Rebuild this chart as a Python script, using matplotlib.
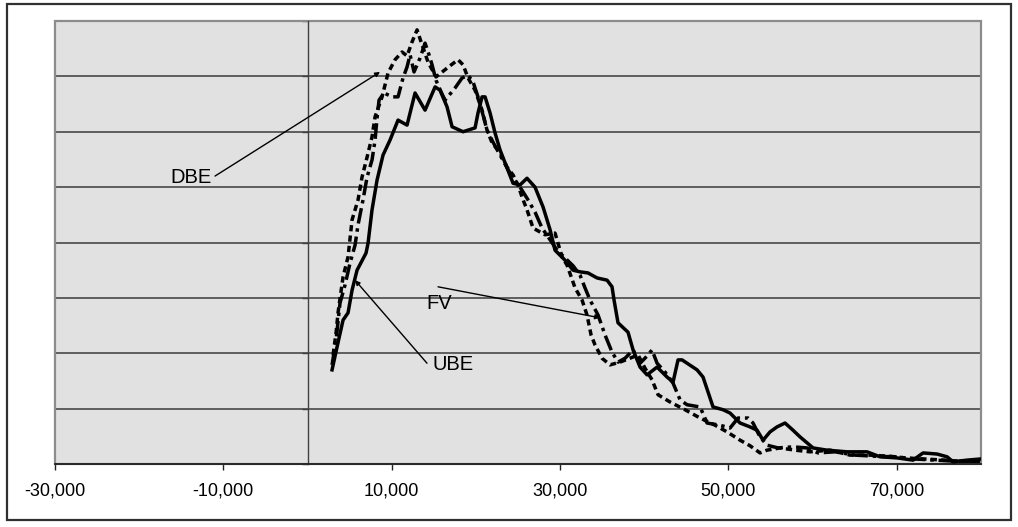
import numpy as np
import matplotlib
matplotlib.use("Agg")
import matplotlib.pyplot as plt
from matplotlib.patches import Rectangle

plt.rcParams['font.family'] = ['Liberation Sans', 'DejaVu Sans']

# ---- data (x in thousands, y in grid units) ----
ube_x = [2.91, 3.50, 4.22, 4.81, 5.29, 5.88, 6.95, 7.19, 7.66, 8.26, 8.97, 9.80, 10.75, 11.82,
         12.77, 13.96, 15.15, 15.74, 16.57, 17.17, 18.47, 19.90, 20.25, 20.73, 21.09, 21.68,
         22.27, 22.87, 23.46, 24.41, 25.24, 26.07, 27.02, 27.98, 28.81, 29.40, 30.59, 31.54,
         32.37, 33.32, 34.39, 35.58, 36.17, 36.41, 36.88, 38.07, 38.67, 39.50, 40.33, 41.52,
         42.71, 43.42, 44.01, 44.49, 46.27, 46.98, 48.17, 49.36, 50.19, 51.38, 52.56, 53.40,
         54.11, 54.94, 55.77, 56.72, 57.67, 58.50, 60.05, 61.71, 64.09, 66.46, 68.01, 70.03,
         71.93, 73.12, 74.78, 75.97, 76.68, 78.34, 79.89]
ube_y = [1.70, 2.11, 2.60, 2.73, 3.14, 3.50, 3.81, 3.99, 4.59, 5.13, 5.58, 5.85, 6.21, 6.12,
         6.70, 6.39, 6.81, 6.75, 6.45, 6.09, 6.00, 6.07, 6.34, 6.63, 6.63, 6.34,
         5.98, 5.67, 5.44, 5.07, 5.04, 5.16, 5.00, 4.64, 4.23, 3.86, 3.68, 3.50,
         3.47, 3.45, 3.36, 3.32, 3.20, 2.96, 2.55, 2.38, 2.06, 1.75, 1.61, 1.75,
         1.57, 1.48, 1.88, 1.88, 1.70, 1.57, 1.03, 0.98, 0.92, 0.74, 0.67, 0.61,
         0.43, 0.58, 0.67, 0.74, 0.61, 0.49, 0.29, 0.25, 0.22, 0.22, 0.13, 0.11,
         0.07, 0.20, 0.18, 0.13, 0.04, 0.07, 0.09]

dbe_x = [3.03, 3.39, 3.62, 4.22, 4.81, 5.29, 6.00, 6.47, 7.07, 7.66, 8.02, 8.85, 9.56, 10.39,
         11.23, 11.82, 12.41, 13.01, 13.60, 14.31, 15.26, 16.33, 17.17, 17.88, 18.47, 19.07,
         19.90, 20.73, 21.32, 21.92, 22.87, 23.70, 24.41, 25.00, 25.48, 26.07, 26.79, 28.21,
         29.40, 30.23, 30.83, 31.78, 32.61, 33.20, 33.68, 34.15, 34.98, 35.93, 37.12, 38.31,
         39.26, 40.09, 40.92, 41.64, 43.06, 44.84, 46.63, 48.41, 49.83, 51.38, 52.56, 53.75,
         54.58, 56.13, 57.91, 59.69, 62.07, 64.44, 66.82, 69.19, 70.98, 73.35, 75.73, 77.51,
         79.89]
dbe_y = [1.97, 2.37, 2.73, 3.38, 3.74, 4.41, 4.77, 5.18, 5.54, 5.91, 6.27, 6.63, 7.06, 7.30,
         7.44, 7.37, 7.62, 7.84, 7.57, 7.26, 6.99, 7.12, 7.22, 7.30, 7.21, 6.97,
         6.75, 6.39, 6.03, 5.80, 5.62, 5.36, 5.22, 5.04, 4.82, 4.59, 4.26, 4.14,
         4.17, 3.74, 3.59, 3.18, 2.96, 2.69, 2.33, 2.15, 1.91, 1.79, 1.84, 1.91,
         1.97, 1.73, 1.52, 1.25, 1.12, 0.98, 0.83, 0.70, 0.58, 0.43, 0.33, 0.20,
         0.25, 0.29, 0.25, 0.22, 0.25, 0.16, 0.16, 0.14, 0.11, 0.09, 0.07, 0.05,
         0.05]

fv_x = [2.91, 3.39, 3.86, 4.45, 5.05, 5.64, 6.00, 6.59, 7.07, 7.66, 8.02, 8.26, 8.49, 9.09,
        10.04, 10.75, 11.34, 11.82, 12.18, 12.65, 13.36, 13.96, 14.43, 14.79, 15.26, 15.86,
        16.33, 17.52, 18.35, 19.07, 19.66, 20.25, 20.85, 21.32, 22.04, 22.87, 23.70, 24.41,
        25.24, 26.07, 27.02, 27.86, 28.81, 29.64, 30.59, 31.54, 32.37, 32.96, 33.56, 34.51,
        35.34, 36.17, 36.88, 37.72, 38.67, 39.50, 40.33, 40.92, 41.52, 42.47, 43.42, 44.25,
        45.08, 46.63, 47.46, 49.00, 50.19, 51.14, 52.33, 52.92, 53.75, 54.58, 55.89, 57.67,
        59.34, 60.64, 62.66, 65.04, 67.41, 69.79, 72.16, 74.54, 76.92, 79.89]
fv_y = [1.79, 2.24, 2.91, 3.23, 3.63, 3.95, 4.32, 4.77, 5.18, 5.49, 5.85, 6.25, 6.57, 6.70,
        6.63, 6.63, 6.97, 7.17, 7.39, 7.08, 7.33, 7.60, 7.39, 7.21, 6.93, 6.72,
        6.57, 6.79, 6.97, 7.02, 6.90, 6.63, 6.30, 6.03, 5.81, 5.58, 5.35, 5.16,
        5.00, 4.80, 4.55, 4.26, 4.05, 3.86, 3.72, 3.58, 3.41, 3.18, 2.96, 2.69,
        2.33, 2.02, 1.84, 1.91, 2.06, 1.82, 1.95, 2.06, 1.82, 1.66, 1.46, 1.16,
        1.07, 1.03, 0.74, 0.70, 0.65, 0.83, 0.83, 0.74, 0.49, 0.34, 0.29, 0.31,
        0.29, 0.20, 0.22, 0.16, 0.14, 0.13, 0.09, 0.07, 0.05, 0.05]

x_ticks = [-30000, -10000, 10000, 30000, 50000, 70000]
x_limits = (-30000, 80000)
y_limits = (0, 8)

# ---- figure ----
W, H = 1018, 527
fig = plt.figure(figsize=(W / 100, H / 100), dpi=100)
fig.patches.append(Rectangle((7 / W, 7 / H), (1011 - 7) / W, (520 - 4) / H,
                             transform=fig.transFigure, fill=False,
                             edgecolor='#303030', linewidth=1.6))

ax = fig.add_axes([55 / W, (H - 464) / H, (981 - 55) / W, (464 - 21) / H])
ax.set_facecolor('#e1e1e1')
ax.set_xlim(*x_limits)
ax.set_ylim(*y_limits)

for yv in range(1, 8):
    ax.axhline(yv, color='#3a3a3a', linewidth=1.1, zorder=1)

ax.add_patch(Rectangle((0, 0), 1, 1, transform=ax.transAxes, fill=False,
                       edgecolor='#8c8c8c', linewidth=1.6, zorder=2, clip_on=False))

for s in ['top', 'right']:
    ax.spines[s].set_visible(False)
ax.spines['left'].set_position(('data', 0))
ax.spines['left'].set_color('#404040')
ax.spines['left'].set_linewidth(1.0)
ax.spines['bottom'].set_color('#202020')
ax.spines['bottom'].set_linewidth(1.3)
ax.spines['bottom'].set_zorder(3)

ax.set_yticks(range(0, 9))
ax.tick_params(axis='y', direction='out', length=4, width=1, color='#404040', labelleft=False)
ax.set_xticks(x_ticks)
ax.set_xticklabels([f'{v:,}' for v in x_ticks])
ax.tick_params(axis='x', direction='out', length=4.5, width=1, color='#202020',
               labelsize=13, pad=8.5)

k = 1000
lw = 2.5
ax.plot(np.array(ube_x) * k, ube_y, color='black', linewidth=lw, zorder=4,
        solid_joinstyle='round')
ax.plot(np.array(dbe_x) * k, dbe_y, color='black', linewidth=lw, zorder=4,
        linestyle=(0, (1.8, 1.2)))
ax.plot(np.array(fv_x) * k, fv_y, color='black', linewidth=lw, zorder=4,
        linestyle=(0, (4.5, 1.4, 1.0, 1.4)))

# annotations
arrow = dict(arrowstyle='-|>', color='black', linewidth=1.0, mutation_scale=7,
             shrinkA=0, shrinkB=0)
ax.text(-13840, 5.18, 'DBE', fontsize=14.5, ha='center', va='center', zorder=6)
ax.annotate('', xy=(8610, 7.08), xytext=(-10990, 5.20), arrowprops=arrow, zorder=6)
ax.text(15620, 2.89, 'FV', fontsize=14.5, ha='center', va='center', zorder=6)
ax.annotate('', xy=(34750, 2.64), xytext=(15500, 3.20), arrowprops=arrow, zorder=6)
ax.text(17280, 1.79, 'UBE', fontsize=14.5, ha='center', va='center', zorder=6)
ax.annotate('', xy=(5640, 3.32), xytext=(14190, 1.82), arrowprops=arrow, zorder=6)

fig.savefig('out.png', dpi=100)
